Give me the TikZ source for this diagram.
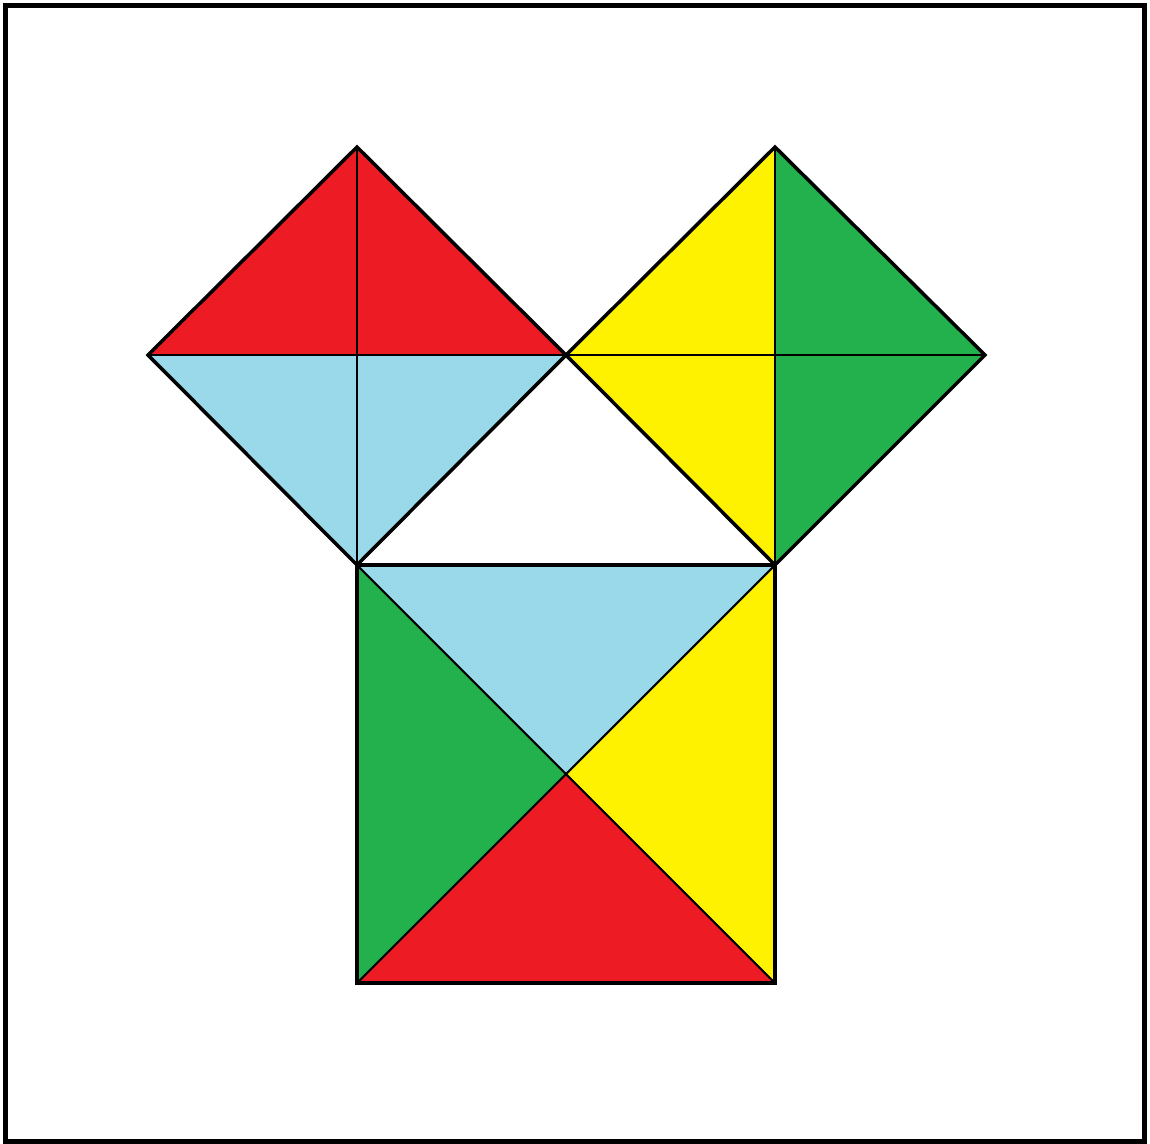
\documentclass[tikz,border=0pt]{standalone}
\definecolor{pred}{HTML}{ED1C24}
\definecolor{pblue}{HTML}{99D9EA}
\definecolor{pyellow}{HTML}{FFF200}
\definecolor{pgreen}{HTML}{22B14C}
\tikzset{
  outer/.style={draw=black,line width=1pt,line join=miter},
  inner/.style={draw=black,line width=0.6pt},
  frame/.style={draw=black,line width=1.45pt}
}
\begin{document}
\begin{tikzpicture}[x=0.01cm,y=-0.01cm]
\useasboundingbox (0,0) rectangle (1150,1144);
\fill[white] (0,0) rectangle (1150,1144);
\draw[frame] (5.5,5.5) rectangle (1144.5,1141.5);
% key points
\coordinate (LT) at (357,147);
\coordinate (LL) at (148,355);
\coordinate (M)  at (566,355);
\coordinate (LB) at (357,565);
\coordinate (LC) at (357,355);
\coordinate (RT) at (775,147);
\coordinate (RR) at (985,355);
\coordinate (RB) at (775,565);
\coordinate (RC) at (775,355);
\coordinate (SBL) at (357,983);
\coordinate (SBR) at (775,983);
\coordinate (SC) at (566,774);
% left diamond
\fill[pred] (LL) -- (LT) -- (M) -- cycle;
\fill[pblue] (LL) -- (LB) -- (M) -- cycle;
% right diamond
\fill[pyellow] (RT) -- (M) -- (RB) -- cycle;
\fill[pgreen] (RT) -- (RR) -- (RB) -- cycle;
% square
\fill[pblue] (LB) -- (RB) -- (SC) -- cycle;
\fill[pgreen] (LB) -- (SBL) -- (SC) -- cycle;
\fill[pyellow] (RB) -- (SBR) -- (SC) -- cycle;
\fill[pred] (SBL) -- (SBR) -- (SC) -- cycle;
% inner lines
\draw[inner] (LT) -- (LB);
\draw[inner] (LL) -- (M);
\draw[inner] (RT) -- (RB);
\draw[inner] (M) -- (RR);
\draw[inner] (LB) -- (SBR);
\draw[inner] (RB) -- (SBL);
% outlines
\draw[outer] (LL) -- (LT) -- (M) -- (LB) -- cycle;
\draw[outer] (M) -- (RT) -- (RR) -- (RB) -- cycle;
\draw[outer] (LB) -- (RB) -- (SBR) -- (SBL) -- cycle;
\end{tikzpicture}
\end{document}
